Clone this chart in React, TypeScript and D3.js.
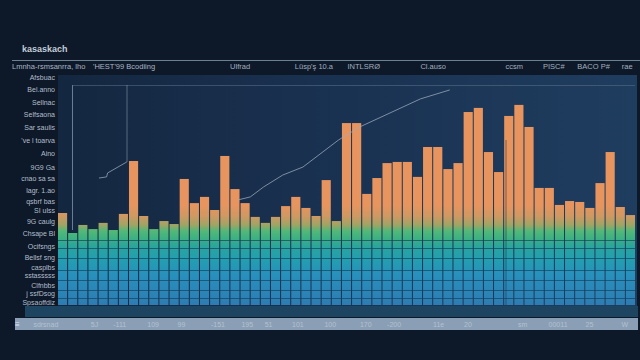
import React from "react";
import * as d3 from "d3";

const W = 640;
const H = 360;

// bar values (0-100 scale)
const barValues = [
  40.0, 31.3, 34.8, 33.0, 35.7, 32.6, 39.6, 62.6, 38.7, 33.0, 36.5, 35.2, 54.8, 44.3, 47.0, 41.3,
  64.8, 50.4, 44.3, 38.3, 35.7, 38.3, 43.0, 47.0, 42.2, 38.7, 54.3, 36.5, 79.1, 79.1, 48.3, 55.2,
  61.7, 62.2, 62.2, 55.7, 68.7, 68.7, 59.1, 61.7, 83.9, 85.7, 66.5, 57.8, 82.2, 87.0, 77.4, 50.9,
  50.9, 43.5, 45.2, 44.8, 42.2, 53.0, 66.5, 42.6, 39.1,
];

// trend line (x in bar-index units, y in value units)
const trendX = [17.8, 19.0, 20.3, 22.2, 24.2, 27.7, 29.8, 35.8, 38.7];
const trendY = [45.7, 47.0, 51.3, 56.5, 60.0, 71.7, 77.4, 89.6, 93.5];
const trend2X = [4.05, 4.8, 4.9, 6.8];
const trend2Y = [55.2, 55.7, 57.4, 62.2];

// y labels
const yTickValues = [
  99.1, 93.9, 88.4, 83.0, 77.4, 71.7, 66.1, 60.0, 55.2, 50.0, 45.2, 41.3, 36.5, 31.3, 25.7, 20.9,
  16.5, 13.0, 8.7, 5.2, 1.3,
];
const yTickLabels = [
  "Afsbuac", "Bel.anno", "Sellnac", "Selfsaona", "Sar saulis", "'ve l toarva", "Aino",
  "9G9 Ga", "cnao sa sa", "lagr. 1.ao", "qsbrf bas", "SI ulss", "9G caulg", "Chsape Bl",
  "Ocifsngs", "Bellsf sng", "casplbs", "sstasssss", "Clfnbbs", "j ssfDsog", "Spsaoffdiz",
];

// header categories
const headerIdx = [17.0, 23.4, 28.6, 35.8, 44.2, 47.9, 51.3, 55.7];
const headerLabels = ["Ulfrad", "Lüsp'ş 10.a", "INTLSRØ", "Cl.auso", "ccsm", "PISC#", "BACO P#", "rae"];

// x axis labels
const xLabelIdx = [-1.2, 3.6, 6.1, 9.4, 12.2, 15.8, 18.7, 20.8, 23.7, 26.9, 30.4, 33.2, 37.6, 40.5, 45.9, 49.4, 52.5, 56.0];
const xLabels = ["sdrsnad", "5J", "-111", "109", "99", "-151", "195", "51", "101", "100", "170", "-200", "11e", "20", "sm", "00011", "25", "W"];

const PX0 = 58;
const PX1 = 635;
const PY0 = 75;
const PY1 = 305;

export default function App() {
  const n = barValues.length;
  const x = d3.scaleBand<number>().domain(d3.range(n)).range([PX0, PX1]).paddingInner(0.1).paddingOuter(0);
  const xi = d3.scaleLinear().domain([0, n]).range([PX0, PX1]);
  const y = d3.scaleLinear().domain([0, 100]).range([PY1, PY0]);

  const line = d3
    .line<number>()
    .x((d, i) => xi(trendX[i]))
    .y((d) => y(d));
  const line2 = d3
    .line<number>()
    .x((d, i) => xi(trend2X[i]))
    .y((d) => y(d));

  const gridYs = [240, 248, 258, 270, 280, 290, 298];
  const font = "'Liberation Sans', 'DejaVu Sans', sans-serif";

  return (
    <svg width={W} height={H} style={{ position: "absolute", left: 0, top: 0, display: "block" }}>
      <defs>
        <linearGradient id="bg" x1="0" x2="1" y1="0" y2="0">
          <stop offset="0" stopColor="#142740" />
          <stop offset="0.5" stopColor="#1a3252" />
          <stop offset="1" stopColor="#1f3d5f" />
        </linearGradient>
        <linearGradient id="barg" gradientUnits="userSpaceOnUse" x1="0" x2="0" y1={PY0} y2={PY1}>
          <stop offset={(205 - PY0) / 230} stopColor="#e8945e" />
          <stop offset={(216 - PY0) / 230} stopColor="#d09862" />
          <stop offset={(225 - PY0) / 230} stopColor="#a0a464" />
          <stop offset={(231 - PY0) / 230} stopColor="#52b878" />
          <stop offset={(239 - PY0) / 230} stopColor="#3cb083" />
          <stop offset={(247 - PY0) / 230} stopColor="#29a49e" />
          <stop offset={(260 - PY0) / 230} stopColor="#239eb0" />
          <stop offset={(275 - PY0) / 230} stopColor="#2890bc" />
          <stop offset="1" stopColor="#2d7cb2" />
        </linearGradient>
      </defs>
      <rect x={0} y={0} width={W} height={H} fill="#0d1828" />
      {/* title */}
      <text x={22} y={52} fill="#c3cdd8" fontSize={9} fontFamily={font} fontWeight="bold">
        kasaskach
      </text>
      {/* header line */}
      <line x1={12} x2={640} y1={60.5} y2={60.5} stroke="#6d7f93" strokeWidth={1} />
      <text x={12} y={69} fill="#a9b5c4" fontSize={7.5} fontFamily={font}>
        Lmnha-rsmsanrra, lho
      </text>
      <text x={93} y={69} fill="#a9b5c4" fontSize={7.5} fontFamily={font}>
        'HEST'99 Bcodiing
      </text>
      {headerLabels.map((t, i) => (
        <text key={i} x={xi(headerIdx[i])} y={69} fill="#a2afbf" fontSize={7.5} fontFamily={font}>
          {t}
        </text>
      ))}
      {/* plot background */}
      <rect x={PX0} y={PY0} width={PX1 - PX0 + 2} height={PY1 - PY0 + 1} fill="url(#bg)" />
      {/* frame lines */}
      <line x1={72.5} x2={72.5} y1={85} y2={230} stroke="#8fa2b6" strokeOpacity={0.7} />
      <line x1={72} x2={PX1} y1={85.5} y2={85.5} stroke="#5d7590" strokeOpacity={0.5} />
      <line x1={127} x2={127} y1={85} y2={162} stroke="#8fa2b6" strokeOpacity={0.55} />
      {/* bars */}
      {barValues.map((v, i) => (
        <rect key={i} x={x(i)} y={y(v)} width={x.bandwidth()} height={PY1 - y(v)} fill="url(#barg)" />
      ))}
      {/* horizontal grid in lower bands */}
      {gridYs.map((gy) => (
        <line key={gy} x1={PX0} x2={PX1} y1={gy + 0.5} y2={gy + 0.5} stroke="#164260" strokeOpacity={0.7} />
      ))}
      <line x1={506} x2={506} y1={140} y2={PY1} stroke="#22384f" strokeOpacity={0.6} />
      {/* trend lines */}
      <path d={line(trendY) || ""} fill="none" stroke="#9eacbb" strokeOpacity={0.75} strokeWidth={1} />
      <path d={line2(trend2Y) || ""} fill="none" stroke="#9eacbb" strokeOpacity={0.75} strokeWidth={1} />
      {/* y labels */}
      {yTickLabels.map((t, i) => (
        <text key={i} x={55} y={y(yTickValues[i]) + 3} fill="#b3bfcc" fontSize={7} fontFamily={font} textAnchor="end">
          {t}
        </text>
      ))}
      {/* bottom strips */}
      <rect x={25} y={PY1 + 1} width={613} height={11} fill="#1d4562" />
      <rect x={15} y={318} width={623} height={12} fill="#8a9fb5" />
      <text x={15} y={327} fill="#dfe7ef" fontSize={8} fontFamily={font}>≡</text>
      {xLabels.map((t, i) => (
        <text key={i} x={xi(xLabelIdx[i])} y={327} fill="#b3c1cf" fontSize={7} fontFamily={font} textAnchor="middle">
          {t}
        </text>
      ))}
    </svg>
  );
}
